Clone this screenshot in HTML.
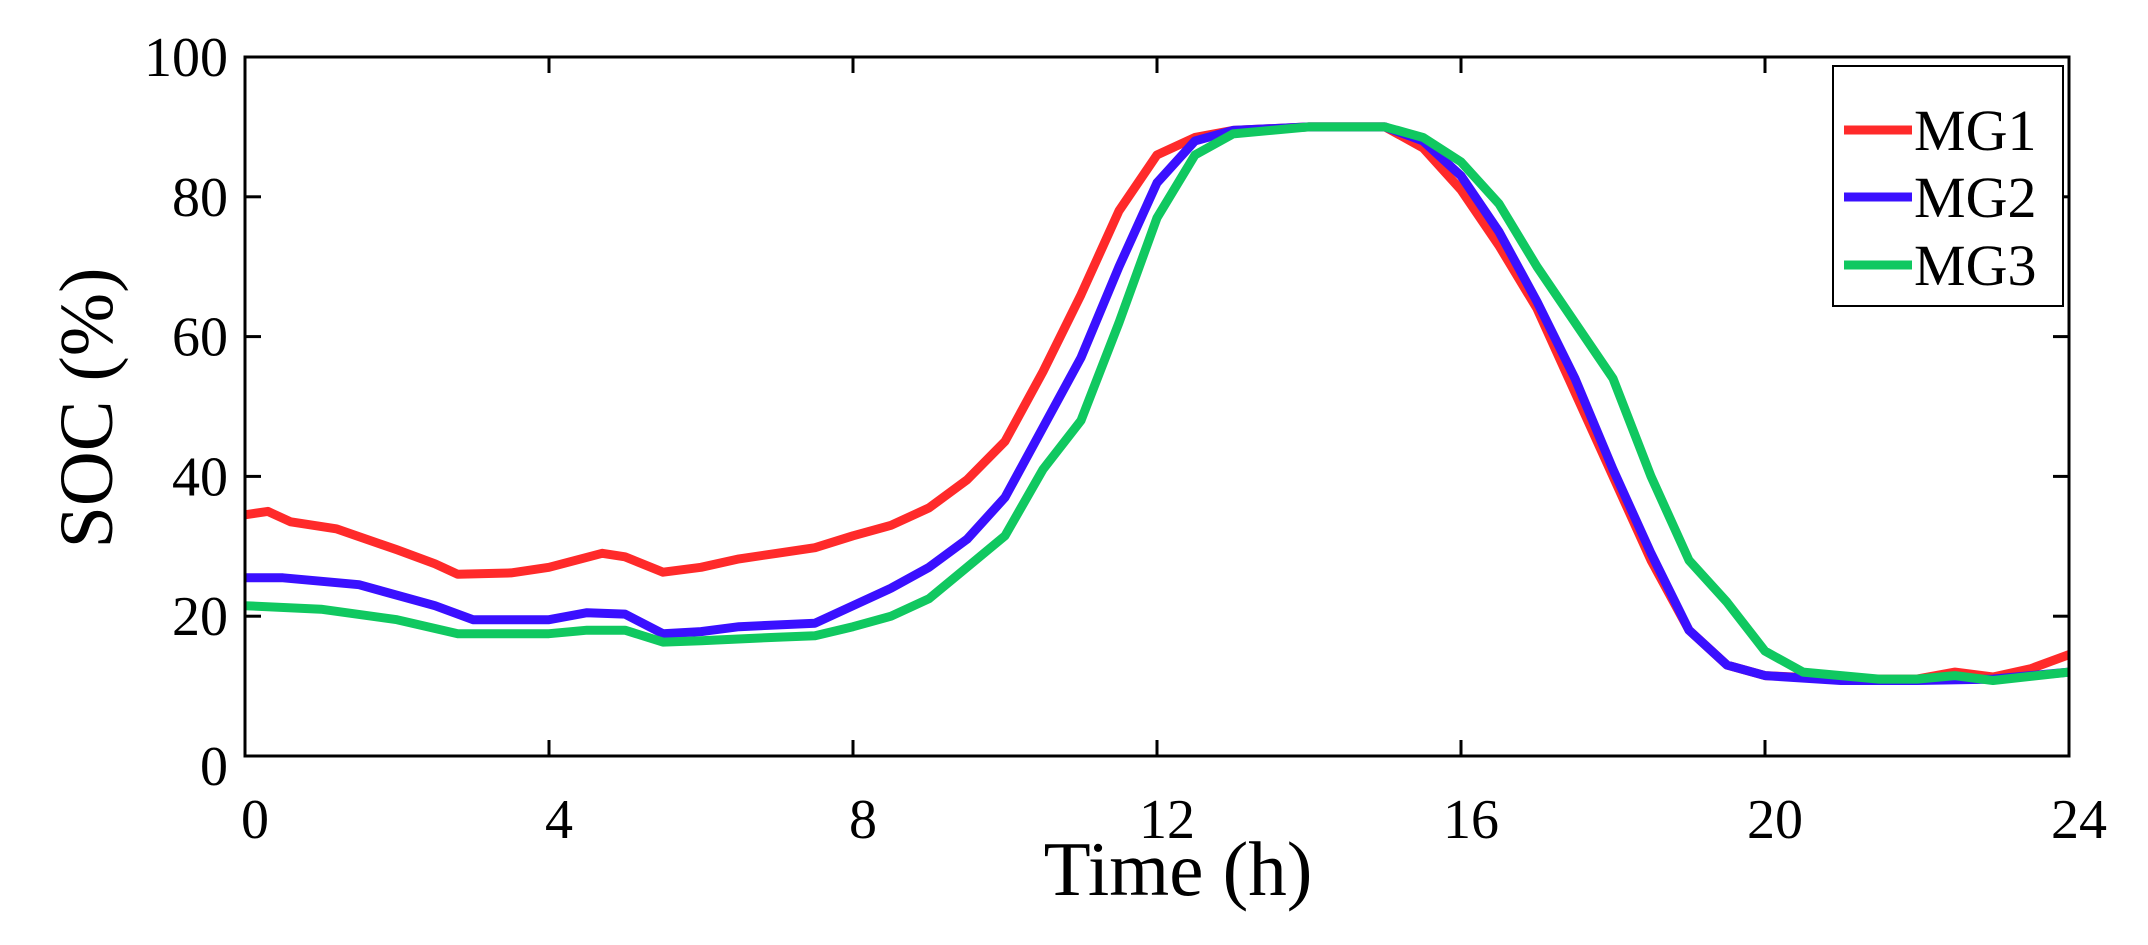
<!DOCTYPE html>
<html><head><meta charset="utf-8"><style>
html,body{margin:0;padding:0;background:#fff;}
svg{display:block;}
text{font-family:"Liberation Serif",serif;fill:#000;}
</style></head><body>
<svg id="s" width="2148" height="945" viewBox="0 0 2148 945" xmlns="http://www.w3.org/2000/svg">
<rect width="2148" height="945" fill="#fff"/>
<g id="plot"></g>
<rect x="245" y="57" width="1824" height="699" fill="none" stroke="#000" stroke-width="3"/>
<g id="ticks" stroke="#000" stroke-width="3"></g>
<g font-size="56" text-anchor="middle" id="xl"></g>
<g font-size="56" text-anchor="end" id="yl"></g>
<text x="1178" y="895" font-size="77" text-anchor="middle">Time (h)</text>
<text transform="translate(112,408) rotate(-90)" font-size="76" text-anchor="middle">SOC (%)</text>
<rect x="1833" y="66" width="230" height="240" fill="#fff" stroke="#000" stroke-width="2"/>
<line x1="1844" y1="130" x2="1912" y2="130" stroke="#ff2a2a" stroke-width="9"/>
<line x1="1844" y1="197" x2="1912" y2="197" stroke="#3a10ff" stroke-width="9"/>
<line x1="1844" y1="265" x2="1912" y2="265" stroke="#10c860" stroke-width="9"/>
<text x="1914" y="150" font-size="58">MG1</text>
<text x="1914" y="217" font-size="58">MG2</text>
<text x="1914" y="285" font-size="58">MG3</text>
</svg>
<script>
var X=function(h){return 245+h*76},Y=function(p){return 756-p*6.99};
var d={
"#ff2a2a":[[0,34.5],[0.3,35],[0.6,33.5],[1.2,32.5],[2,29.5],[2.5,27.5],[2.8,26],[3.5,26.2],[4,27],[4.7,29],[5,28.5],[5.5,26.3],[6,27],[6.5,28.2],[7,29],[7.5,29.8],[8,31.5],[8.5,33],[9,35.5],[9.5,39.5],[10,45],[10.5,55],[11,66],[11.5,78],[12,86],[12.5,88.5],[13,89.5],[14,90],[15,90],[15.5,87],[16,81],[16.5,73],[17,64],[17.5,52],[18,40],[18.5,28],[19,18],[19.5,13],[20,11.5],[21,11],[22,11],[22.5,12],[23,11.3],[23.5,12.5],[24,14.5]],
"#3a10ff":[[0,25.5],[0.5,25.5],[1.5,24.5],[2.5,21.5],[3,19.5],[4,19.5],[4.5,20.5],[5,20.3],[5.5,17.5],[6,17.8],[6.5,18.5],[7.5,19],[8,21.5],[8.5,24],[9,27],[9.5,31],[10,37],[10.5,47],[11,57],[11.5,70],[12,82],[12.5,88],[13,89.5],[14,90],[15,90],[15.5,88],[16,83],[16.5,75],[17,65],[17.5,54],[18,41],[18.5,29],[19,18],[19.5,13],[20,11.5],[21,10.8],[22,10.8],[23,11],[24,12]],
"#10c860":[[0,21.5],[1,21],[2,19.5],[2.8,17.5],[4,17.5],[4.5,18],[5,18],[5.5,16.3],[6,16.5],[7,17],[7.5,17.2],[8,18.5],[8.5,20],[9,22.5],[9.5,27],[10,31.5],[10.5,41],[11,48],[11.5,62],[12,77],[12.5,86],[13,89],[14,90],[15,90],[15.5,88.5],[16,85],[16.5,79],[17,70],[17.5,62],[18,54],[18.5,40],[19,28],[19.5,22],[20,15],[20.5,12],[21,11.5],[21.5,11],[22,11],[22.5,11.5],[23,10.8],[24,12]]};
var ns="http://www.w3.org/2000/svg",g=document.getElementById("plot");
for(var c of ["#ff2a2a","#3a10ff","#10c860"]){var p=document.createElementNS(ns,"polyline");
p.setAttribute("points",d[c].map(function(q){return X(q[0]).toFixed(1)+","+Y(q[1]).toFixed(1)}).join(" "));
p.setAttribute("fill","none");p.setAttribute("stroke",c);p.setAttribute("stroke-width","9");p.setAttribute("stroke-linejoin","round");g.appendChild(p);}
var t=document.getElementById("ticks"),xl=document.getElementById("xl"),yl=document.getElementById("yl");
for(var h=0;h<=24;h+=4){var x=X(h);t.innerHTML+='<line x1="'+x+'" y1="756" x2="'+x+'" y2="740"/><line x1="'+x+'" y1="57" x2="'+x+'" y2="73"/>';
xl.innerHTML+='<text x="'+(x+10)+'" y="838">'+h+'</text>';}
for(var v=0;v<=100;v+=20){var y=Y(v);t.innerHTML+='<line x1="245" y1="'+y+'" x2="261" y2="'+y+'"/><line x1="2069" y1="'+y+'" x2="2053" y2="'+y+'"/>';
yl.innerHTML+='<text x="228" y="'+(y+19+(v==0?10:0))+'">'+v+'</text>';}
</script>
</body></html>
